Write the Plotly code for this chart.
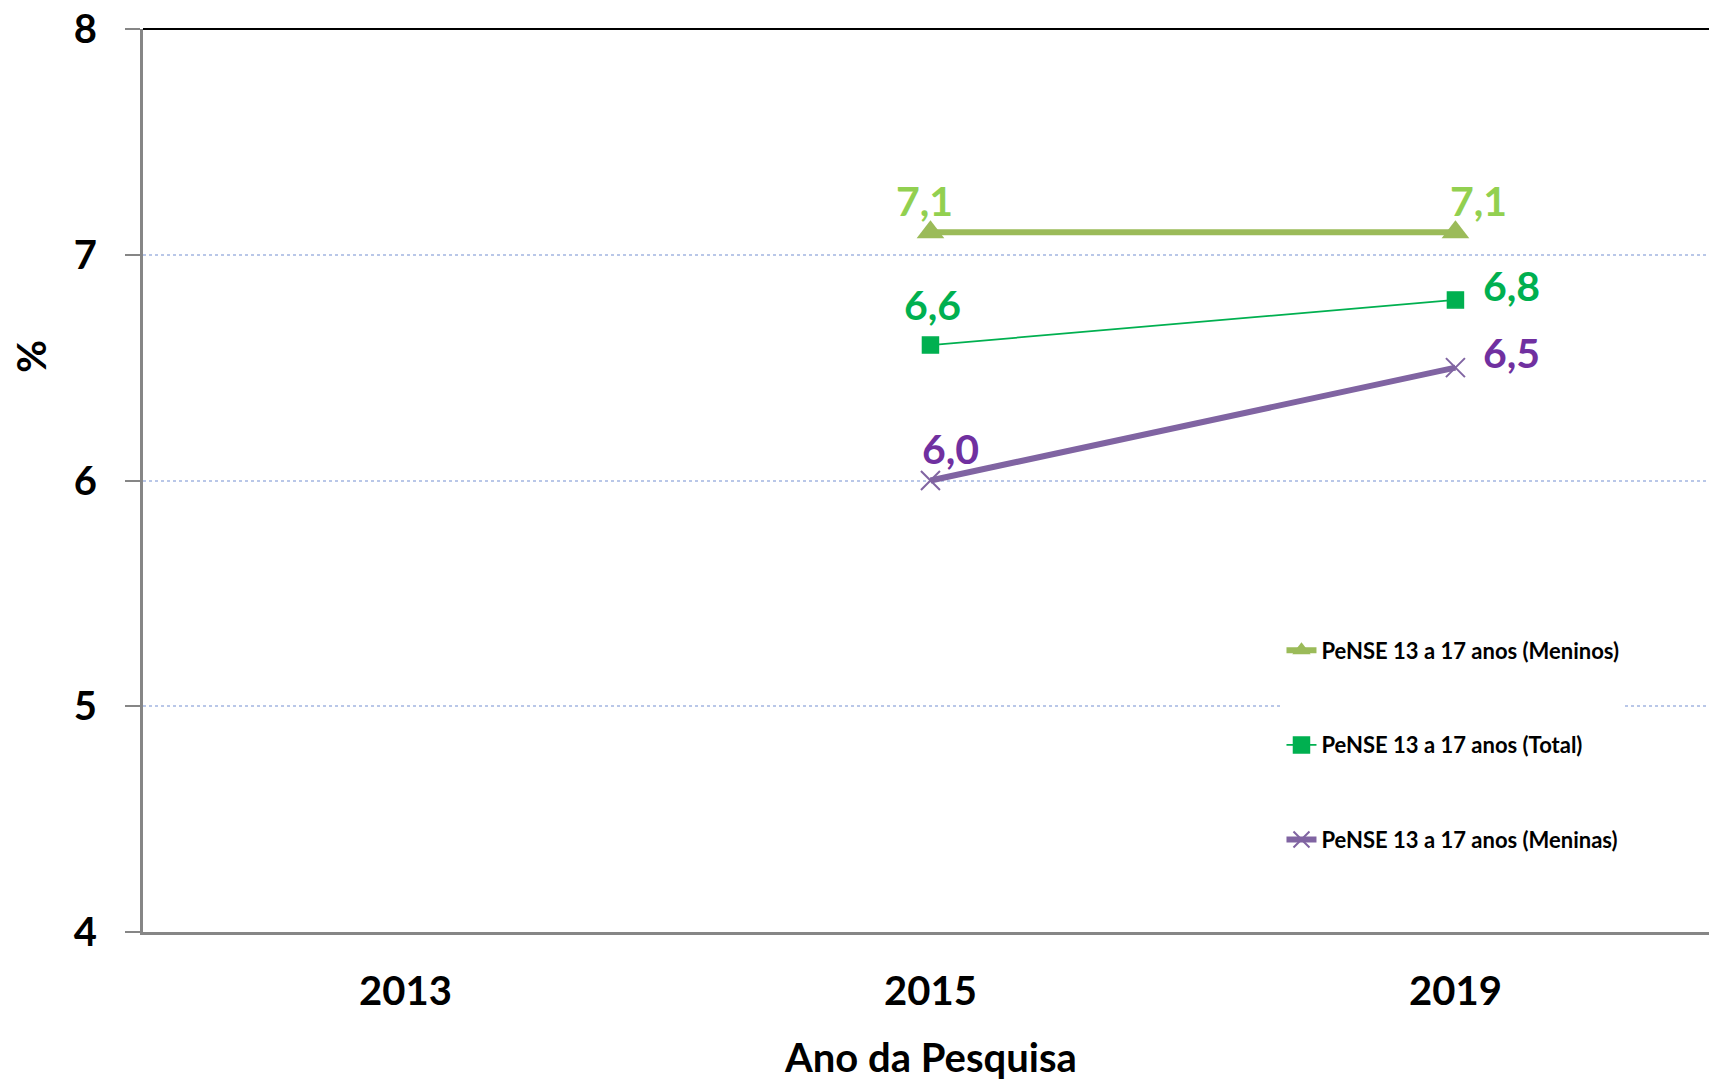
import plotly.graph_objects as go

years = ["2013", "2015", "2019"]
meninos = [None, 7.1, 7.1]
total = [None, 6.6, 6.8]
meninas = [None, 6.0, 6.5]
series_names = [
    "PeNSE 13 a 17 anos (Meninos)",
    "PeNSE 13 a 17 anos (Total)",
    "PeNSE 13 a 17 anos (Meninas)",
]
y_ticks = [4, 5, 6, 7, 8]

FONT = "Lato"

fig = go.Figure()

fig.add_trace(go.Scatter(
    x=years, y=meninos, name=series_names[0], legendgroup="a",
    mode="lines+markers",
    line=dict(color="#9BBB59", width=6),
    marker=dict(symbol="triangle-up", size=24, color="#9BBB59"),
))
fig.add_trace(go.Scatter(
    x=years, y=total, name=series_names[1], legendgroup="b",
    mode="lines+markers",
    line=dict(color="#00B050", width=1.75),
    marker=dict(symbol="square", size=16, color="#00B050",
                line=dict(color="#00B050", width=1.5)),
))
fig.add_trace(go.Scatter(
    x=years, y=meninas, name=series_names[2], legendgroup="c",
    mode="lines+markers",
    line=dict(color="#8064A2", width=6),
    marker=dict(symbol="x-thin", size=19, color="#8064A2",
                line=dict(color="#8064A2", width=2)),
))

# data labels
label_styles = [
    (meninos, "#92D050", {1: (-6, 32), 2: (23, 32)}),
    (total, "#00B050", {1: (2, 41), 2: (56, 14)}),
    (meninas, "#7030A0", {1: (20, 32), 2: (56, 15)}),
]
for vals, color, shifts in label_styles:
    for i, v in enumerate(vals):
        if v is None:
            continue
        dx, dy = shifts[i]
        fig.add_annotation(
            x=i, y=v, xref="x", yref="y",
            text=f"{v:.1f}".replace(".", ","),
            showarrow=False, xshift=dx, yshift=dy,
            xanchor="center", yanchor="middle",
            font=dict(family=FONT, size=41, color=color, weight="bold"),
        )

# axis titles
fig.add_annotation(
    x=-0.0715, y=0.637, xref="paper", yref="paper",
    xanchor="center", yanchor="middle",
    text="%", textangle=-90, showarrow=False,
    font=dict(family=FONT, size=40, color="black", weight="bold"),
)
fig.add_annotation(
    x=0.5026, y=-0.138, xref="paper", yref="paper",
    text="Ano da Pesquisa", showarrow=False, xanchor="center", yanchor="middle",
    font=dict(family=FONT, size=40, color="black", weight="bold"),
)

# top border line
fig.add_shape(type="line", xref="paper", yref="paper", x0=0, x1=1, y0=1, y1=1,
              line=dict(color="black", width=2))

fig.update_layout(
    width=1709, height=1081,
    margin=dict(l=143, r=0, t=29, b=149),
    paper_bgcolor="white", plot_bgcolor="white",
    showlegend=True,
    legend=dict(
        x=0.727, y=0.335, xanchor="left", yanchor="top",
        bgcolor="white", borderwidth=0,
        traceorder="grouped", tracegroupgap=63,
        font=dict(family=FONT, size=22, color="black", weight="bold"),
    ),
    xaxis=dict(
        type="category", categoryorder="array", categoryarray=years,
        range=[-0.5, 2.483],
        showline=True, linecolor="#868686", linewidth=3,
        ticks="", showgrid=False, zeroline=False,
        tickfont=dict(family=FONT, size=40, color="black", weight="bold"),
        ticklabelstandoff=22,
    ),
    yaxis=dict(
        range=[4, 8], tickvals=y_ticks, ticktext=[str(t) for t in y_ticks],
        showline=True, linecolor="#868686", linewidth=3,
        ticks="outside", ticklen=15, tickwidth=2, tickcolor="#868686",
        showgrid=True, gridcolor="#B9C7E8", griddash="dot", gridwidth=1.5,
        zeroline=False,
        tickfont=dict(family=FONT, size=40, color="black", weight="bold"),
        ticklabelstandoff=20,
    ),
)

fig.write_html(
    "out.html",
    config={"displayModeBar": False},
    post_script="document.body.style.margin='0';document.body.style.overflow='hidden';",
)
